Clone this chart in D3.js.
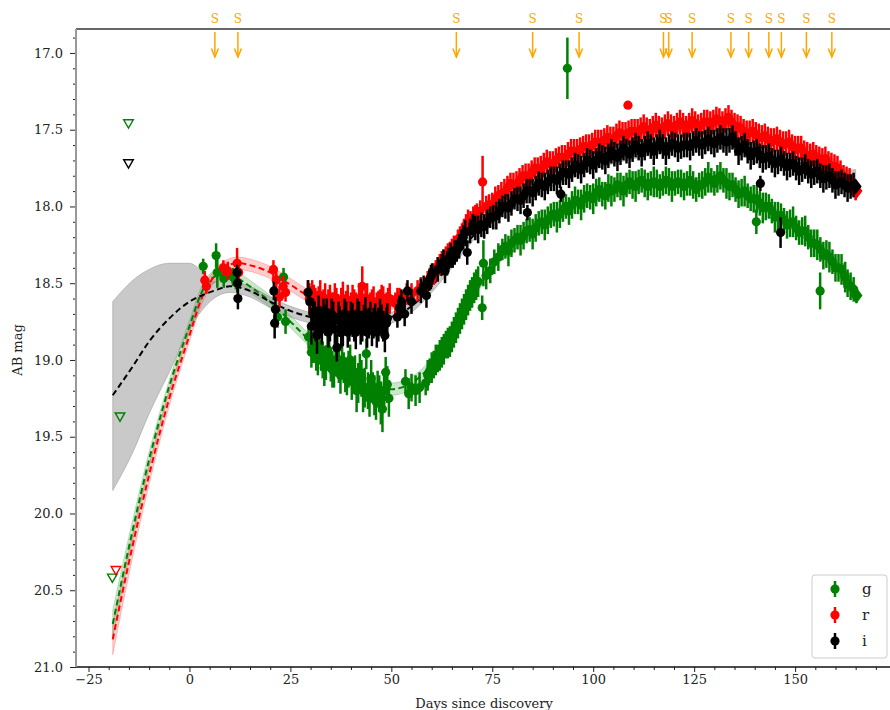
<!DOCTYPE html>
<html>
<head>
<meta charset="utf-8">
<script src="https://cdn.jsdelivr.net/npm/d3@7"></script>
<style>
	body { margin: 0; background: #fff; }
	svg { display: block; font-family: "DejaVu Serif", serif; }
</style>
</head>
<body>
<svg id="chart" width="890" height="710"></svg>
<script>
// tick values
const xTicks = [-25, 0, 25, 50, 75, 100, 125, 150];
const yTicks = [17.0, 17.5, 18.0, 18.5, 19.0, 19.5, 20.0, 20.5, 21.0];

// spectra epochs (S arrows)
const specDays = [6.3, 12.0, 66.1, 85.0, 96.5, 117.4, 118.7, 124.5, 134.1, 138.5, 143.5, 146.6, 152.8, 159.1];

// upper limits [day, mag]
const gLimits = [[-15.1, 17.46], [-17.2, 19.37], [-19.1, 20.42]];
const rLimits = [[-18.2, 20.37]];
const iLimits = [[-15.1, 17.72]];

// fits [day, mag, bright edge, faint edge]
const gFit = [
	[-19, 20.72, 20.63, 20.81], [-15, 20.22, 20.15, 20.29], [-10, 19.65, 19.6, 19.7], [-5, 19.17, 19.13, 19.21],
	[0, 18.78, 18.74, 18.82], [3, 18.56, 18.52, 18.6], [6, 18.46, 18.42, 18.5], [9, 18.44, 18.4, 18.48],
	[12, 18.47, 18.43, 18.51], [16, 18.54, 18.5, 18.58], [20, 18.62, 18.58, 18.66], [25, 18.75, 18.71, 18.79],
	[30, 18.88, 18.84, 18.92], [35, 19.0, 18.96, 19.04], [40, 19.1, 19.06, 19.14], [45, 19.17, 19.13, 19.21],
	[50, 19.19, 19.15, 19.23], [55, 19.15, 19.11, 19.19], [60, 19.03, 18.99, 19.07], [65, 18.83, 18.79, 18.87],
	[70, 18.58, 18.54, 18.62], [75, 18.39, 18.36, 18.42], [80, 18.26, 18.23, 18.29], [85, 18.16, 18.13, 18.19],
	[90, 18.07, 18.04, 18.1], [95, 17.99, 17.96, 18.02], [100, 17.93, 17.9, 17.96], [110, 17.86, 17.83, 17.89],
	[120, 17.85, 17.82, 17.88], [130, 17.84, 17.81, 17.87], [135, 17.87, 17.84, 17.9], [140, 17.95, 17.92, 17.98],
	[145, 18.04, 18.01, 18.07], [150, 18.13, 18.1, 18.16], [155, 18.25, 18.22, 18.28], [160, 18.39, 18.35, 18.43],
	[165, 18.56, 18.51, 18.61]
];
const rFit = [
	[-19, 20.82, 20.72, 20.92], [-15, 20.32, 20.24, 20.4], [-10, 19.75, 19.69, 19.81], [-5, 19.25, 19.2, 19.3],
	[0, 18.84, 18.8, 18.88], [3, 18.6, 18.56, 18.64], [6, 18.46, 18.42, 18.5], [9, 18.39, 18.35, 18.43],
	[12, 18.37, 18.33, 18.41], [16, 18.39, 18.35, 18.43], [20, 18.43, 18.39, 18.47], [25, 18.51, 18.47, 18.55],
	[30, 18.59, 18.55, 18.63], [35, 18.63, 18.59, 18.67], [40, 18.64, 18.6, 18.68], [45, 18.64, 18.6, 18.68],
	[50, 18.63, 18.59, 18.67], [55, 18.58, 18.54, 18.62], [60, 18.46, 18.42, 18.5], [65, 18.3, 18.26, 18.34],
	[70, 18.12, 18.09, 18.15], [75, 17.98, 17.95, 18.01], [80, 17.88, 17.85, 17.91], [90, 17.72, 17.69, 17.75],
	[100, 17.61, 17.58, 17.64], [110, 17.53, 17.5, 17.56], [120, 17.49, 17.46, 17.52], [130, 17.46, 17.43, 17.49],
	[135, 17.47, 17.44, 17.5], [140, 17.52, 17.49, 17.55], [150, 17.61, 17.58, 17.64], [160, 17.73, 17.7, 17.76],
	[165, 17.87, 17.83, 17.91]
];
const iFit = [
	[-19, 19.23, 18.62, 19.85], [-14, 19.04, 18.48, 19.6], [-10, 18.88, 18.41, 19.35], [-5, 18.73, 18.37, 19.08],
	[0, 18.62, 18.37, 18.8], [3, 18.58, 18.42, 18.68], [6, 18.55, 18.49, 18.6], [10, 18.52, 18.49, 18.56],
	[15, 18.55, 18.52, 18.59], [20, 18.62, 18.59, 18.66], [25, 18.68, 18.65, 18.72], [30, 18.72, 18.69, 18.76],
	[35, 18.74, 18.71, 18.78], [40, 18.75, 18.72, 18.79], [45, 18.74, 18.71, 18.78], [50, 18.72, 18.69, 18.76],
	[55, 18.65, 18.62, 18.69], [60, 18.52, 18.49, 18.56], [65, 18.36, 18.33, 18.4], [70, 18.2, 18.17, 18.23],
	[75, 18.07, 18.04, 18.1], [80, 17.97, 17.94, 18.0], [90, 17.84, 17.81, 17.87], [100, 17.73, 17.7, 17.76],
	[110, 17.66, 17.63, 17.69], [120, 17.61, 17.58, 17.64], [130, 17.59, 17.56, 17.62], [135, 17.59, 17.56, 17.62],
	[140, 17.63, 17.6, 17.66], [150, 17.71, 17.68, 17.74], [160, 17.8, 17.77, 17.83], [165, 17.86, 17.76, 17.96]
];

// photometry [day, mag, err]
const gObs = [
	[3.4, 18.39, 0.05], [6.6, 18.32, 0.08], [6.9, 18.43, 0.1], [8.5, 18.47, 0.06], [10.8, 18.46, 0.06], [11.5, 18.49, 0.05],
	[21.8, 18.72, 0.07], [23.3, 18.46, 0.06], [23.8, 18.75, 0.08],
	[29.5, 18.85, 0.08], [30.2, 18.95, 0.1], [31.0, 18.9, 0.09], [31.8, 19.0, 0.1], [32.6, 18.97, 0.1], [33.4, 19.05, 0.12],
	[34.2, 18.93, 0.1], [35.0, 19.03, 0.11], [35.8, 19.08, 0.1], [36.6, 18.92, 0.1], [37.4, 19.1, 0.12], [38.2, 19.05, 0.1],
	[39.0, 19.12, 0.11], [39.8, 19.0, 0.1], [40.6, 19.1, 0.12], [41.4, 19.2, 0.14], [42.2, 19.08, 0.12], [43.0, 19.2, 0.14],
	[43.8, 18.96, 0.1], [44.6, 19.25, 0.12], [45.4, 19.18, 0.1], [46.2, 19.27, 0.12], [47.0, 19.22, 0.12], [47.8, 19.32, 0.15],
	[48.6, 19.08, 0.1], [49.4, 19.25, 0.12],
	[53.5, 19.14, 0.08], [54.3, 19.22, 0.1], [55.0, 19.18, 0.09], [58.5, 19.15, 0.08], [59.5, 19.07, 0.08], [60.5, 19.03, 0.09],
	[61.5, 18.99, 0.09], [62.5, 18.95, 0.1], [63.5, 18.9, 0.09], [64.5, 18.88, 0.1], [65.5, 18.82, 0.1], [66.5, 18.76, 0.1],
	[67.5, 18.7, 0.1], [68.5, 18.64, 0.1], [69.5, 18.58, 0.1], [70.5, 18.53, 0.1], [71.5, 18.49, 0.1], [72.5, 18.66, 0.08],
	[72.8, 18.37, 0.15], [73.5, 18.45, 0.09], [74.5, 18.42, 0.08], [75.5, 18.36, 0.08],
	[76.5, 18.33, 0.09], [77.5, 18.28, 0.07], [79.0, 18.29, 0.1], [80.5, 18.22, 0.08], [82.0, 18.22, 0.1], [83.5, 18.16, 0.08],
	[85.0, 18.18, 0.1], [86.5, 18.11, 0.08], [88.0, 18.12, 0.1], [89.5, 18.06, 0.08], [91.0, 18.07, 0.1], [92.5, 18.02, 0.08],
	[94.0, 18.03, 0.09], [95.5, 17.96, 0.09], [97.0, 17.99, 0.1], [98.5, 17.93, 0.08], [100.0, 17.95, 0.1], [101.5, 17.89, 0.08],
	[103.0, 17.93, 0.09], [104.5, 17.9, 0.1], [106.0, 17.86, 0.08], [107.5, 17.9, 0.1], [109.0, 17.84, 0.08], [110.5, 17.87, 0.1],
	[112.0, 17.83, 0.08], [113.5, 17.87, 0.09], [115.0, 17.84, 0.1], [116.5, 17.87, 0.08], [118.0, 17.83, 0.09], [119.5, 17.87, 0.1],
	[121.0, 17.84, 0.08], [122.5, 17.87, 0.09], [124.0, 17.83, 0.1], [125.5, 17.89, 0.08], [127.0, 17.86, 0.09], [128.5, 17.81, 0.1],
	[130.0, 17.85, 0.08], [131.5, 17.8, 0.09], [133.0, 17.85, 0.1], [134.5, 17.86, 0.08], [136.0, 17.92, 0.09], [137.5, 17.9, 0.1],
	[139.0, 17.95, 0.08], [140.5, 17.95, 0.09], [142.0, 18.01, 0.1], [143.5, 18.0, 0.08], [145.0, 18.07, 0.1], [146.5, 18.06, 0.08],
	[148.0, 18.12, 0.09], [149.5, 18.1, 0.1], [151.0, 18.17, 0.08], [152.5, 18.16, 0.1], [154.0, 18.24, 0.09], [155.5, 18.25, 0.1],
	[157.0, 18.32, 0.09], [158.5, 18.33, 0.1], [160.0, 18.4, 0.09], [161.5, 18.41, 0.1], [163.0, 18.5, 0.09], [164.5, 18.54, 0.08],
	[93.6, 17.1, 0.2], [140.4, 18.1, 0.08], [156.2, 18.55, 0.12], [162.4, 18.46, 0.1]
];
// second telescope, interleaved epochs
const gObs2 = [
	[30.6, 18.92, 0.1], [31.4, 18.96, 0.11], [32.2, 18.93, 0.1], [33.0, 19.0, 0.12], [33.8, 19.02, 0.11], [34.6, 18.98, 0.1],
	[35.4, 19.06, 0.12], [36.2, 19.0, 0.1], [37.0, 19.04, 0.11], [37.8, 19.0, 0.12], [38.6, 19.1, 0.11], [39.4, 19.06, 0.12],
	[40.2, 19.14, 0.12], [41.0, 19.08, 0.11], [41.8, 19.15, 0.13], [42.6, 19.12, 0.12], [43.4, 19.18, 0.13], [44.2, 19.2, 0.12],
	[45.0, 19.12, 0.12], [45.8, 19.23, 0.13], [46.6, 19.19, 0.12], [47.4, 19.28, 0.14], [48.2, 19.2, 0.13], [49.0, 19.16, 0.12],
	[56.0, 19.2, 0.1], [57.0, 19.18, 0.1], [59.0, 19.1, 0.1], [60.0, 19.05, 0.1], [61.0, 19.0, 0.1], [62.0, 18.97, 0.1],
	[63.0, 18.93, 0.1], [64.0, 18.89, 0.1], [65.0, 18.85, 0.1], [66.0, 18.79, 0.1], [67.0, 18.73, 0.1], [68.0, 18.67, 0.1],
	[69.0, 18.61, 0.1], [70.0, 18.56, 0.1], [71.0, 18.51, 0.1],
	[78.25, 18.26, 0.08], [79.75, 18.24, 0.09], [81.25, 18.2, 0.08], [82.75, 18.19, 0.09], [84.25, 18.15, 0.08], [85.75, 18.14, 0.09],
	[87.25, 18.1, 0.08], [88.75, 18.09, 0.09], [90.25, 18.05, 0.08], [91.75, 18.05, 0.09], [93.25, 18.0, 0.08], [94.75, 17.99, 0.09],
	[96.25, 17.97, 0.08], [97.75, 17.95, 0.09], [99.25, 17.94, 0.08], [100.75, 17.91, 0.09], [102.25, 17.92, 0.08], [103.75, 17.88, 0.09],
	[105.25, 17.89, 0.08], [106.75, 17.87, 0.09], [108.25, 17.86, 0.08], [109.75, 17.86, 0.09], [111.25, 17.84, 0.08], [112.75, 17.85, 0.09],
	[114.25, 17.85, 0.08], [115.75, 17.85, 0.09], [117.25, 17.85, 0.08], [118.75, 17.84, 0.09], [120.25, 17.85, 0.08], [121.75, 17.85, 0.09],
	[123.25, 17.85, 0.08], [124.75, 17.86, 0.09], [126.25, 17.86, 0.08], [127.75, 17.84, 0.09], [129.25, 17.83, 0.08], [130.75, 17.82, 0.09],
	[132.25, 17.83, 0.08], [133.75, 17.87, 0.09], [135.25, 17.89, 0.08], [136.75, 17.91, 0.09], [138.25, 17.93, 0.08], [139.75, 17.95, 0.09],
	[141.25, 17.98, 0.08], [142.75, 18.0, 0.09], [144.25, 18.03, 0.08], [145.75, 18.06, 0.09], [147.25, 18.09, 0.08], [148.75, 18.11, 0.09],
	[150.25, 18.14, 0.08], [151.75, 18.16, 0.09], [153.25, 18.2, 0.08], [154.75, 18.24, 0.09], [156.25, 18.28, 0.08], [157.75, 18.31, 0.09],
	[159.25, 18.36, 0.08], [160.75, 18.4, 0.09], [162.25, 18.45, 0.08], [163.75, 18.52, 0.09]
];
const rObs = [
	[3.8, 18.48, 0.06], [4.2, 18.52, 0.05], [8.4, 18.4, 0.05], [9.5, 18.42, 0.06], [11.8, 18.37, 0.1], [12.2, 18.43, 0.05],
	[20.8, 18.41, 0.06], [21.5, 18.48, 0.08], [22.3, 18.59, 0.07], [23.2, 18.52, 0.07], [23.8, 18.56, 0.06],
	[29.3, 18.56, 0.08], [30.0, 18.62, 0.1], [30.8, 18.6, 0.09], [31.6, 18.65, 0.1], [32.4, 18.58, 0.1], [33.2, 18.63, 0.09],
	[34.0, 18.68, 0.1], [34.8, 18.6, 0.09], [35.6, 18.66, 0.1], [36.4, 18.62, 0.09], [37.2, 18.7, 0.1], [38.0, 18.6, 0.11],
	[38.8, 18.65, 0.1], [39.6, 18.68, 0.09], [40.4, 18.62, 0.11], [41.2, 18.66, 0.1], [42.0, 18.6, 0.1], [42.8, 18.52, 0.13],
	[43.6, 18.64, 0.1], [44.4, 18.68, 0.1], [45.2, 18.63, 0.09], [46.0, 18.7, 0.1], [46.8, 18.65, 0.1], [47.6, 18.6, 0.09],
	[48.4, 18.67, 0.1], [49.2, 18.63, 0.1],
	[51.0, 18.63, 0.07], [52.0, 18.6, 0.07], [53.8, 18.57, 0.07], [55.0, 18.57, 0.07], [58.2, 18.52, 0.06], [59.0, 18.49, 0.07],
	[60.0, 18.46, 0.06], [61.0, 18.42, 0.07], [62.0, 18.38, 0.07], [63.0, 18.34, 0.06], [64.0, 18.31, 0.07], [65.0, 18.28, 0.07],
	[66.0, 18.25, 0.06], [67.0, 18.2, 0.07], [68.0, 18.15, 0.07], [69.0, 18.1, 0.08], [70.3, 18.08, 0.08], [71.2, 18.05, 0.07],
	[72.6, 17.84, 0.17], [73.5, 18.0, 0.07],
	[75.0, 17.99, 0.08], [76.5, 17.93, 0.07], [78.0, 17.91, 0.09], [79.5, 17.85, 0.07], [81.0, 17.86, 0.09], [82.5, 17.8, 0.07],
	[84.0, 17.81, 0.09], [85.5, 17.75, 0.07], [87.0, 17.76, 0.09], [88.5, 17.71, 0.08], [90.0, 17.73, 0.09], [91.5, 17.68, 0.07],
	[93.0, 17.69, 0.09], [94.5, 17.64, 0.08], [96.0, 17.65, 0.09], [97.5, 17.61, 0.07], [99.0, 17.62, 0.09], [100.5, 17.58, 0.08],
	[102.0, 17.59, 0.09], [103.5, 17.55, 0.08], [105.0, 17.57, 0.09], [106.5, 17.52, 0.08], [108.0, 17.54, 0.09], [109.5, 17.51, 0.08],
	[111.0, 17.52, 0.09], [112.5, 17.48, 0.08], [114.0, 17.52, 0.09], [115.5, 17.47, 0.08], [117.0, 17.51, 0.09], [118.5, 17.46, 0.08],
	[120.0, 17.5, 0.09], [121.5, 17.45, 0.08], [123.0, 17.5, 0.09], [124.5, 17.44, 0.08], [126.0, 17.49, 0.09], [127.5, 17.45, 0.08],
	[129.0, 17.47, 0.09], [130.5, 17.43, 0.08], [132.0, 17.47, 0.09], [133.5, 17.42, 0.08], [135.0, 17.48, 0.09], [136.5, 17.49, 0.08],
	[138.0, 17.53, 0.09], [139.5, 17.51, 0.08], [141.0, 17.55, 0.09], [142.5, 17.54, 0.08], [144.0, 17.58, 0.09], [145.5, 17.56, 0.08],
	[147.0, 17.6, 0.09], [148.5, 17.58, 0.08], [150.0, 17.63, 0.09], [151.5, 17.62, 0.08], [153.0, 17.67, 0.09], [154.5, 17.66, 0.08],
	[156.0, 17.7, 0.09], [157.5, 17.69, 0.08], [159.0, 17.74, 0.09], [160.5, 17.75, 0.08], [162.0, 17.81, 0.08], [163.5, 17.83, 0.08],
	[165.0, 17.9, 0.06],
	[108.6, 17.34, 0.02]
];
const rObs2 = [
	[29.7, 18.6, 0.1], [30.4, 18.58, 0.1], [31.2, 18.63, 0.1], [32.0, 18.62, 0.1], [32.8, 18.66, 0.1], [33.6, 18.6, 0.1],
	[34.4, 18.64, 0.1], [35.2, 18.66, 0.1], [36.0, 18.6, 0.1], [36.8, 18.67, 0.1], [37.6, 18.63, 0.1], [38.4, 18.68, 0.1],
	[39.2, 18.61, 0.1], [40.0, 18.66, 0.1], [40.8, 18.64, 0.1], [41.6, 18.69, 0.1], [42.4, 18.63, 0.1], [43.2, 18.67, 0.1],
	[44.0, 18.6, 0.1], [44.8, 18.66, 0.1], [45.6, 18.62, 0.1], [46.4, 18.66, 0.1], [47.2, 18.64, 0.1], [48.0, 18.62, 0.1],
	[48.8, 18.66, 0.1], [49.6, 18.6, 0.1],
	[51.5, 18.6, 0.07], [52.8, 18.62, 0.07], [56.5, 18.55, 0.07], [57.3, 18.53, 0.07], [59.5, 18.47, 0.07], [60.5, 18.44, 0.07],
	[61.5, 18.4, 0.07], [62.5, 18.36, 0.07], [63.5, 18.33, 0.07], [64.5, 18.3, 0.07], [65.5, 18.26, 0.07], [66.5, 18.22, 0.07],
	[67.5, 18.18, 0.07], [68.5, 18.12, 0.07], [69.6, 18.1, 0.07], [70.8, 18.06, 0.07], [72.0, 18.03, 0.07], [74.2, 17.99, 0.07],
	[75.75, 17.95, 0.08], [77.25, 17.92, 0.08], [78.75, 17.88, 0.08], [80.25, 17.86, 0.08], [81.75, 17.83, 0.08], [83.25, 17.8, 0.08],
	[84.75, 17.78, 0.08], [86.25, 17.76, 0.08], [87.75, 17.73, 0.08], [89.25, 17.72, 0.08], [90.75, 17.7, 0.08], [92.25, 17.68, 0.08],
	[93.75, 17.66, 0.08], [95.25, 17.64, 0.08], [96.75, 17.63, 0.08], [98.25, 17.61, 0.08], [99.75, 17.6, 0.08], [101.25, 17.58, 0.08],
	[102.75, 17.57, 0.08], [104.25, 17.56, 0.08], [105.75, 17.54, 0.08], [107.25, 17.53, 0.08], [108.75, 17.52, 0.08], [110.25, 17.51, 0.08],
	[111.75, 17.5, 0.08], [113.25, 17.5, 0.08], [114.75, 17.49, 0.08], [116.25, 17.49, 0.08], [117.75, 17.48, 0.08], [119.25, 17.48, 0.08],
	[120.75, 17.47, 0.08], [122.25, 17.47, 0.08], [123.75, 17.47, 0.08], [125.25, 17.46, 0.08], [126.75, 17.47, 0.08], [128.25, 17.45, 0.08],
	[129.75, 17.45, 0.08], [131.25, 17.44, 0.08], [132.75, 17.44, 0.08], [134.25, 17.45, 0.08], [135.75, 17.48, 0.08], [137.25, 17.51, 0.08],
	[138.75, 17.52, 0.08], [140.25, 17.53, 0.08], [141.75, 17.55, 0.08], [143.25, 17.56, 0.08], [144.75, 17.57, 0.08], [146.25, 17.58, 0.08],
	[147.75, 17.59, 0.08], [149.25, 17.61, 0.08], [150.75, 17.62, 0.08], [152.25, 17.65, 0.08], [153.75, 17.67, 0.08], [155.25, 17.68, 0.08],
	[156.75, 17.7, 0.08], [158.25, 17.72, 0.08], [159.75, 17.74, 0.08], [161.25, 17.78, 0.08], [162.75, 17.82, 0.08], [164.25, 17.86, 0.07]
];
const iObs = [
	[11.8, 18.43, 0.05], [11.9, 18.5, 0.06], [12.0, 18.6, 0.07],
	[20.9, 18.55, 0.06], [21.3, 18.67, 0.08], [21.1, 18.76, 0.1],
	[29.4, 18.56, 0.08], [29.8, 18.62, 0.09], [30.2, 18.78, 0.12], [31.0, 18.72, 0.1], [31.6, 18.84, 0.12], [32.4, 18.75, 0.1],
	[33.2, 18.7, 0.1], [34.0, 18.69, 0.09], [34.8, 18.78, 0.1], [35.6, 18.72, 0.1], [36.5, 18.92, 0.09], [37.2, 18.75, 0.1],
	[38.0, 18.8, 0.11], [38.8, 18.72, 0.1], [39.6, 18.78, 0.1], [40.4, 18.74, 0.11], [41.2, 18.82, 0.11], [42.0, 18.72, 0.1],
	[42.8, 18.78, 0.1], [43.6, 18.7, 0.11], [44.4, 18.76, 0.1], [45.2, 18.8, 0.11], [46.0, 18.73, 0.1], [46.8, 18.77, 0.11],
	[47.6, 18.74, 0.1], [48.4, 18.84, 0.11], [49.0, 18.73, 0.1],
	[51.5, 18.72, 0.07], [52.5, 18.62, 0.08], [53.3, 18.7, 0.08], [54.0, 18.55, 0.07], [58.0, 18.52, 0.07], [58.7, 18.58, 0.08],
	[59.4, 18.48, 0.07], [60.1, 18.44, 0.07], [62.5, 18.38, 0.07], [63.3, 18.42, 0.08], [64.2, 18.34, 0.07], [65.2, 18.33, 0.07],
	[66.2, 18.29, 0.07], [67.3, 18.22, 0.07], [68.3, 18.17, 0.08], [68.8, 18.3, 0.08], [70.2, 18.12, 0.07], [71.5, 18.15, 0.09],
	[73.0, 18.13, 0.08], [74.5, 18.07, 0.07], [76.0, 18.06, 0.09], [77.5, 18.0, 0.07], [79.0, 18.01, 0.09], [80.5, 17.95, 0.07],
	[82.0, 17.96, 0.09], [83.5, 17.9, 0.08], [85.0, 17.91, 0.09], [86.5, 17.85, 0.08], [88.0, 17.87, 0.09], [89.5, 17.82, 0.08],
	[91.0, 17.83, 0.09], [92.5, 17.78, 0.08], [94.0, 17.79, 0.09], [95.5, 17.73, 0.08], [97.0, 17.76, 0.09], [98.5, 17.7, 0.08],
	[100.0, 17.73, 0.09], [101.5, 17.67, 0.08], [103.0, 17.7, 0.09], [104.5, 17.64, 0.08], [106.0, 17.68, 0.09], [107.5, 17.62, 0.08],
	[109.0, 17.66, 0.09], [110.5, 17.6, 0.08], [112.0, 17.65, 0.09], [113.5, 17.59, 0.08], [115.0, 17.64, 0.09], [116.5, 17.58, 0.08],
	[118.0, 17.64, 0.09], [119.5, 17.59, 0.08], [121.0, 17.62, 0.09], [122.5, 17.6, 0.08], [124.0, 17.61, 0.09], [125.5, 17.57, 0.08],
	[127.0, 17.6, 0.09], [128.5, 17.56, 0.08], [130.0, 17.59, 0.09], [131.5, 17.55, 0.08], [133.0, 17.58, 0.09], [134.5, 17.55, 0.08],
	[136.0, 17.64, 0.09], [137.5, 17.6, 0.08], [139.0, 17.67, 0.09], [140.5, 17.64, 0.08], [142.0, 17.69, 0.09], [143.5, 17.67, 0.08],
	[145.0, 17.72, 0.09], [146.5, 17.69, 0.08], [148.0, 17.74, 0.09], [149.5, 17.72, 0.08], [151.0, 17.77, 0.09], [152.5, 17.74, 0.08],
	[154.0, 17.79, 0.09], [155.5, 17.77, 0.08], [157.0, 17.82, 0.09], [158.5, 17.8, 0.08], [160.0, 17.86, 0.09], [161.5, 17.84, 0.08],
	[163.0, 17.88, 0.09], [164.5, 17.86, 0.08],
	[83.7, 18.04, 0.05], [92.0, 17.92, 0.05], [141.4, 17.85, 0.05], [146.4, 18.17, 0.1]
];
const iObs2 = [
	[30.6, 18.7, 0.1], [31.3, 18.78, 0.1], [32.0, 18.68, 0.1], [32.8, 18.8, 0.1], [33.6, 18.74, 0.1], [34.4, 18.82, 0.1],
	[35.2, 18.7, 0.1], [36.0, 18.8, 0.1], [36.9, 18.72, 0.1], [37.6, 18.82, 0.1], [38.4, 18.7, 0.1], [39.2, 18.82, 0.1],
	[40.0, 18.72, 0.1], [40.8, 18.78, 0.1], [41.6, 18.7, 0.1], [42.4, 18.8, 0.1], [43.2, 18.74, 0.1], [44.0, 18.82, 0.1],
	[44.8, 18.72, 0.1], [45.6, 18.76, 0.1], [46.4, 18.82, 0.1], [47.2, 18.7, 0.1], [48.0, 18.78, 0.1], [48.8, 18.76, 0.1],
	[52.0, 18.66, 0.08], [55.0, 18.62, 0.08], [57.3, 18.55, 0.08], [59.8, 18.46, 0.08], [61.5, 18.41, 0.08], [62.9, 18.36, 0.08],
	[63.8, 18.37, 0.08], [64.7, 18.32, 0.08], [65.7, 18.3, 0.08], [66.8, 18.26, 0.08], [67.8, 18.2, 0.08], [69.5, 18.16, 0.08],
	[70.8, 18.14, 0.08], [72.3, 18.12, 0.08],
	[73.75, 18.1, 0.08], [75.25, 18.07, 0.08], [76.75, 18.03, 0.08], [78.25, 18.0, 0.08], [79.75, 17.98, 0.08], [81.25, 17.95, 0.08],
	[82.75, 17.93, 0.08], [84.25, 17.9, 0.08], [85.75, 17.88, 0.08], [87.25, 17.86, 0.08], [88.75, 17.84, 0.08], [90.25, 17.82, 0.08],
	[91.75, 17.8, 0.08], [93.25, 17.78, 0.08], [94.75, 17.76, 0.08], [96.25, 17.74, 0.08], [97.75, 17.73, 0.08], [99.25, 17.71, 0.08],
	[100.75, 17.7, 0.08], [102.25, 17.68, 0.08], [103.75, 17.67, 0.08], [105.25, 17.66, 0.08], [106.75, 17.65, 0.08], [108.25, 17.64, 0.08],
	[109.75, 17.63, 0.08], [111.25, 17.62, 0.08], [112.75, 17.62, 0.08], [114.25, 17.61, 0.08], [115.75, 17.61, 0.08], [117.25, 17.61, 0.08],
	[118.75, 17.61, 0.08], [120.25, 17.6, 0.08], [121.75, 17.61, 0.08], [123.25, 17.6, 0.08], [124.75, 17.59, 0.08], [126.25, 17.59, 0.08],
	[127.75, 17.58, 0.08], [129.25, 17.58, 0.08], [130.75, 17.57, 0.08], [132.25, 17.57, 0.08], [133.75, 17.57, 0.08], [135.25, 17.59, 0.08],
	[136.75, 17.62, 0.08], [138.25, 17.64, 0.08], [139.75, 17.65, 0.08], [141.25, 17.67, 0.08], [142.75, 17.68, 0.08], [144.25, 17.7, 0.08],
	[145.75, 17.71, 0.08], [147.25, 17.72, 0.08], [148.75, 17.73, 0.08], [150.25, 17.75, 0.08], [151.75, 17.76, 0.08], [153.25, 17.77, 0.08],
	[154.75, 17.78, 0.08], [156.25, 17.8, 0.08], [157.75, 17.81, 0.08], [159.25, 17.83, 0.08], [160.75, 17.85, 0.08], [162.25, 17.86, 0.08],
	[163.75, 17.87, 0.08]
];

// last epoch, drawn as diamonds
const gLast = [[165.2, 18.58, 0.05]];
const rLast = [[165.2, 17.9, 0.04]];
const iLast = [[165.0, 17.87, 0.04]];

const bands = [
	{ name: 'g', color: 'green', fill: 'green', fillOpacity: 0.2, obs: gObs.concat(gObs2), last: gLast, fit: gFit, limits: gLimits },
	{ name: 'r', color: 'red', fill: 'red', fillOpacity: 0.2, obs: rObs.concat(rObs2), last: rLast, fit: rFit, limits: rLimits },
	{ name: 'i', color: 'black', fill: '#888', fillOpacity: 0.45, obs: iObs.concat(iObs2), last: iLast, fit: iFit, limits: iLimits }
];

let svg = d3.select('#chart');
let mLeft = 76, mRight = 892, mTop = 29, mBottom = 667;

let x = d3.scaleLinear().domain([-28.1, 174]).range([mLeft, mRight]);
let y = d3.scaleLinear().domain([16.844, 21.0]).range([mTop, mBottom]);

let plot = svg.append('g');

// fit bands
bands.forEach(b => {
	let area = d3.area()
		.x(d => x(d[0]))
		.y0(d => y(d[2]))
		.y1(d => y(d[3]))
		.curve(d3.curveMonotoneX);
	plot.append('path')
		.datum(b.fit)
		.attr('fill', b.fill)
		.attr('fill-opacity', b.fillOpacity)
		.attr('stroke', b.fill)
		.attr('stroke-opacity', b.fillOpacity)
		.attr('d', area);
});

// fit lines
bands.forEach(b => {
	let line = d3.line()
		.x(d => x(d[0]))
		.y(d => y(d[1]))
		.curve(d3.curveMonotoneX);
	plot.append('path')
		.datum(b.fit)
		.attr('fill', 'none')
		.attr('stroke', b.color)
		.attr('stroke-width', 2)
		.attr('stroke-dasharray', '6,3.5')
		.attr('d', line);
});

// photometry
bands.forEach(b => {
	let g = plot.append('g');
	g.selectAll('line.err')
		.data(b.obs.concat(b.last))
		.enter()
		.append('line')
		.attr('x1', d => x(d[0]))
		.attr('x2', d => x(d[0]))
		.attr('y1', d => y(d[1] - d[2]))
		.attr('y2', d => y(d[1] + d[2]))
		.attr('stroke', b.color)
		.attr('stroke-width', 2.5);
	g.selectAll('circle')
		.data(b.obs)
		.enter()
		.append('circle')
		.attr('cx', d => x(d[0]))
		.attr('cy', d => y(d[1]))
		.attr('r', 4.6)
		.attr('fill', b.color);
	g.selectAll('path.dia')
		.data(b.last)
		.enter()
		.append('path')
		.attr('d', d => {
			let cx = x(d[0]), cy = y(d[1]);
			return `M${cx},${cy - 8}L${cx + 6},${cy}L${cx},${cy + 8}L${cx - 6},${cy}Z`;
		})
		.attr('fill', b.color);
});

// upper limits, open triangles
bands.forEach(b => {
	plot.selectAll(null)
		.data(b.limits)
		.enter()
		.append('path')
		.attr('d', d => {
			let cx = x(d[0]), cy = y(d[1]);
			return `M${cx - 4.8},${cy - 3.8}L${cx + 4.8},${cy - 3.8}L${cx},${cy + 4.5}Z`;
		})
		.attr('fill', 'none')
		.attr('stroke', b.color)
		.attr('stroke-width', 1.4);
});

// spectra markers
let spec = svg.append('g').attr('fill', 'orange').attr('stroke', 'orange');
specDays.forEach(d => {
	let sx = x(d);
	spec.append('line')
		.attr('x1', sx).attr('x2', sx)
		.attr('y1', 32).attr('y2', 57)
		.attr('stroke-width', 1.5);
	spec.append('path')
		.attr('d', `M${sx - 3.5},${48.5}L${sx},${57}L${sx + 3.5},${48.5}`)
		.attr('fill', 'none')
		.attr('stroke-width', 1.5);
	spec.append('text')
		.attr('x', sx)
		.attr('y', 22.5)
		.attr('text-anchor', 'middle')
		.attr('stroke', 'none')
		.style('font-size', '12px')
		.text('S');
});

// axes
let xAxis = d3.axisBottom(x).tickValues(xTicks).tickFormat(d3.format('d')).tickSize(5).tickPadding(3);
let xMinor = d3.axisBottom(x).tickValues(d3.range(-25, 175, 5).filter(v => v % 25 != 0)).tickFormat('').tickSize(3);
let yAxis = d3.axisLeft(y).tickValues(yTicks).tickFormat(d3.format('.1f')).tickSize(6).tickPadding(7);
let yMinor = d3.axisLeft(y).tickValues(d3.range(169, 211).map(v => v / 10).filter(v => Math.round(v * 10) % 5 != 0)).tickFormat('').tickSize(3);

svg.append('g').attr('transform', 'translate(0,' + mBottom + ')').call(xAxis);
svg.append('g').attr('transform', 'translate(0,' + mBottom + ')').call(xMinor);
svg.append('g').attr('transform', 'translate(' + mLeft + ',0)').call(yAxis);
svg.append('g').attr('transform', 'translate(' + mLeft + ',0)').call(yMinor);

svg.selectAll('.domain').remove();
svg.selectAll('.tick line').attr('stroke', '#222');
svg.selectAll('.tick text').style('font-size', '13px').style('font-family', '"DejaVu Serif", serif').attr('fill', '#222');

// spines
svg.append('line').attr('x1', mLeft).attr('x2', mRight).attr('y1', mTop).attr('y2', mTop).attr('stroke', '#333').attr('stroke-width', 1.3);
svg.append('line').attr('x1', mLeft).attr('x2', mRight).attr('y1', mBottom).attr('y2', mBottom).attr('stroke', '#111').attr('stroke-width', 1.3);
svg.append('line').attr('x1', mLeft).attr('x2', mLeft).attr('y1', mTop).attr('y2', mBottom).attr('stroke', '#999').attr('stroke-width', 2);

// axis labels
svg.append('text')
	.attr('x', (mLeft + mRight) / 2)
	.attr('y', 708)
	.attr('text-anchor', 'middle')
	.attr('fill', '#222')
	.style('font-size', '13px')
	.text('Days since discovery');

svg.append('text')
	.attr('transform', 'translate(22,350) rotate(-90)')
	.attr('text-anchor', 'middle')
	.attr('fill', '#222')
	.style('font-size', '13px')
	.text('AB mag');

// legend
let legend = svg.append('g').attr('transform', 'translate(812,575)');
legend.append('rect')
	.attr('width', 75)
	.attr('height', 83)
	.attr('rx', 3)
	.attr('fill', 'white')
	.attr('fill-opacity', 0.8)
	.attr('stroke', '#ccc');
bands.forEach((b, i) => {
	let ly = 14 + i * 26;
	legend.append('line')
		.attr('x1', 23).attr('x2', 23)
		.attr('y1', ly - 8).attr('y2', ly + 8)
		.attr('stroke', b.color)
		.attr('stroke-width', 2.5);
	legend.append('circle')
		.attr('cx', 23).attr('cy', ly).attr('r', 4.6)
		.attr('fill', b.color);
	legend.append('text')
		.attr('x', 50).attr('y', ly + 5)
		.attr('fill', '#222')
		.style('font-size', '15px')
		.text(b.name);
});
</script>
</body>
</html>
